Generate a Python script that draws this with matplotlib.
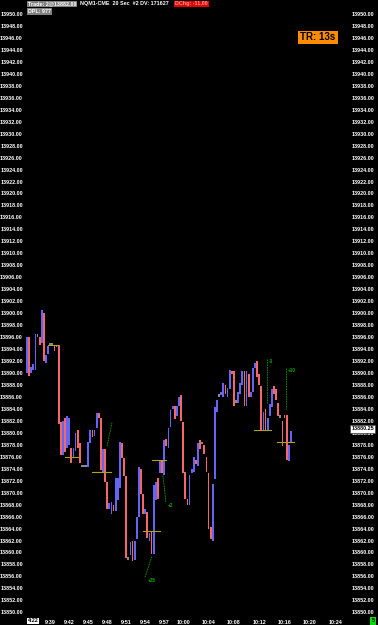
import matplotlib
matplotlib.use('Agg')
import matplotlib.pyplot as plt

plt.rcParams['font.family'] = ['Liberation Sans', 'DejaVu Sans']
plt.rcParams['font.weight'] = 'bold'

# 20 sec bars, first bar at 9:35:20
opens = [13890.0, 13896.0, 13890.0, 13890.5, 13890.5, 13896.25, 13896.0, 13895.0, 13900.0, 13891.75,
         13893.25, 13894.75, 13894.75, 13894.75, 13894.5, 13894.5, 13881.75, 13876.25, 13882.5, 13877.5,
         13878.0, 13877.5, 13876.0, 13877.0, 13880.5, 13878.25, 13874.5, 13874.5, 13874.5, 13874.25,
         13878.25, 13880.5, 13879.5, 13880.75, 13883.25, 13882.5, 13873.25, 13877.25, 13871.75, 13867.25,
         13866.5, 13868.0, 13867.0, 13868.75, 13870.75, 13878.25, 13875.75, 13872.75, 13859.0, 13859.5,
         13862.0, 13858.75, 13862.25, 13866.0, 13874.0, 13869.75, 13866.5, 13866.75, 13862.0, 13863.5,
         13859.75, 13868.75, 13872.5, 13873.25, 13875.5, 13873.0, 13879.0, 13877.5, 13881.0, 13884.0,
         13884.5, 13882.75, 13884.5, 13886.25, 13881.75, 13873.5, 13869.0, 13868.0, 13873.25, 13873.5,
         13875.5, 13874.5, 13878.75, 13878.25, 13878.0, 13876.0, 13873.25, 13864.25, 13862.0, 13872.25,
         13883.5, 13886.25, 13886.25, 13886.0, 13888.0, 13886.0, 13887.25, 13890.25, 13890.25, 13885.25,
         13885.0, 13886.5, 13888.0, 13890.25, 13884.5, 13889.75, 13886.0, 13886.75, 13890.75, 13892.0,
         13889.75, 13887.75, 13880.5, 13884.0, 13880.5, 13882.75, 13884.25, 13887.75, 13887.25, 13885.0,
         13882.75, 13882.0, 13883.0, 13883.0, 13875.25, 13878.5]
closes = [13896.0, 13889.5, 13891.0, 13891.5, 13896.5, 13896.25, 13894.75, 13900.5, 13892.0, 13893.0,
          13894.5, 13894.75, 13894.75, 13893.75, 13894.5, 13881.5, 13876.25, 13882.0, 13876.75, 13882.75,
          13882.5, 13875.0, 13877.5, 13880.0, 13877.5, 13875.0, 13874.5, 13874.5, 13874.5, 13878.5,
          13880.5, 13879.25, 13880.5, 13883.25, 13882.5, 13873.75, 13877.25, 13871.75, 13867.25, 13868.25,
          13868.5, 13867.0, 13872.5, 13872.5, 13878.5, 13875.75, 13872.75, 13859.0, 13859.0, 13861.75,
          13858.5, 13862.0, 13866.0, 13874.25, 13869.75, 13866.5, 13867.25, 13862.5, 13863.25, 13859.75,
          13871.25, 13871.75, 13869.0, 13875.5, 13873.25, 13878.75, 13877.75, 13880.75, 13883.75, 13884.5,
          13882.25, 13884.5, 13886.0, 13882.0, 13873.25, 13869.0, 13868.0, 13873.0, 13874.0, 13876.0,
          13874.75, 13878.25, 13877.25, 13878.25, 13876.5, 13873.5, 13864.0, 13862.25, 13871.5, 13884.25,
          13885.5, 13886.25, 13886.75, 13888.25, 13886.5, 13887.5, 13890.5, 13889.75, 13884.5, 13885.25,
          13886.75, 13888.25, 13890.25, 13884.5, 13890.25, 13886.0, 13886.75, 13890.75, 13891.75, 13889.25,
          13888.0, 13880.5, 13883.5, 13880.5, 13882.5, 13884.75, 13887.25, 13886.5, 13885.5, 13882.75,
          13882.75, 13877.75, 13882.5, 13875.5, 13878.0, 13880.25]

price_ticks = list(range(13850, 13952, 2))
time_pos = [11, 20, 29, 38, 47, 56, 65, 74, 86, 98, 110, 122, 134, 146]
time_labels = ['9:39', '9:42', '9:45', '9:48', '9:51', '9:54', '9:57',
               '10:00', '10:04', '10:08', '10:12', '10:16', '10:20', '10:24']

# olive horizontal levels: start bar, end bar, price
lvl_start = [10, 18, 31, 55, 59, 107.5, 118.5]
lvl_end = [15, 24, 40, 63, 66, 115.5, 126.5]
lvl_price = [13894.65, 13875.9, 13873.4, 13863.6, 13875.5, 13880.55, 13878.4]

# green trade markers
mk_x = [[37.9, 40.3], [55.9, 59.2], [64.4, 65.8], [113.7, 113.7], [122.5, 122.5, 122.8, 122.8]]
mk_y = [[13877.75, 13881.8], [13855.85, 13859.4], [13872.9, 13868.4], [13892.3, 13885.0],
        [13890.8, 13886.6, 13886.6, 13884.0]]
mk_text = ['', '+25', '+2', '-3', '+10']
mk_tx = [0, 57.0, 66.6, 114.6, 123.6]
mk_ty = [0, 13855.3, 13867.9, 13892.0, 13890.4]

last_price = 13880.25

blue = '#6464f5'
red = '#f56666'
grey = '#8a8a8a'
fs = 3.9

fig = plt.figure(figsize=(3.78, 6.25), dpi=100, facecolor='black')
ax = fig.add_axes([25 / 378, 12.7 / 625, 325 / 378, 598.3 / 625])
ax.set_facecolor('black')

for i in range(len(opens)):
    o, c = opens[i], closes[i]
    if c > o:
        ax.bar(i, c - o, bottom=o, width=0.85, color=blue, linewidth=0)
    elif c < o:
        ax.bar(i, o - c, bottom=c, width=0.85, color=red, linewidth=0)
    else:
        ax.bar(i, 0.4, bottom=o - 0.2, width=0.85, color=grey, linewidth=0)

for s, e, p in zip(lvl_start, lvl_end, lvl_price):
    ax.plot([s, e], [p, p], color='#b0a020', lw=0.8)

for xs, ys, t, tx, ty in zip(mk_x, mk_y, mk_text, mk_tx, mk_ty):
    ax.plot(xs, ys, color='#00a000', lw=0.6, ls=(0, (2, 1)))
    if t:
        ax.text(tx, ty, t, color='#00b000', fontsize=3.3, va='center', ha='left')

ax.set_xlim(-0.95, 153.0)
ax.set_ylim(13850, 13950)
ax.set_yticks(price_ticks)
ax.set_yticklabels(['%.2f' % p for p in price_ticks])
ax.set_xticks(time_pos)
ax.set_xticklabels(time_labels)
ax.tick_params(axis='y', length=0, labelleft=True, labelright=True,
               colors='white', labelsize=fs, pad=1.5)
ax.tick_params(axis='x', length=0, colors='white', labelsize=fs, pad=5.5)
for sp in ax.spines.values():
    sp.set_visible(False)

# current price tag on the right scale
fig.text(351.5 / 378, 1 - 429 / 625, '%.2f' % last_price, color='black', fontsize=fs,
         va='center', ha='left',
         bbox=dict(boxstyle='square,pad=0.2', fc='white', ec='#444444', lw=0.5))

# header
fig.text(28 / 378, 1 - 4 / 625, 'Trade: 2@13882.00', color='white', fontsize=fs, va='center',
         bbox=dict(boxstyle='square,pad=0.15', fc='#808080', ec='none'))
fig.text(80 / 378, 1 - 4 / 625, 'NQM1-CME  20 Sec  #2 DV: 171627', color='white',
         fontsize=fs, va='center')
fig.text(175 / 378, 1 - 4 / 625, 'DChg: -11.00', color='#ff9a9a', fontsize=fs, va='center',
         bbox=dict(boxstyle='square,pad=0.15', fc='#e00000', ec='none'))
fig.text(28 / 378, 1 - 11.5 / 625, 'DPL: 977', color='white', fontsize=fs, va='center',
         bbox=dict(boxstyle='square,pad=0.15', fc='#808080', ec='none'))

fig.text(318 / 378, 1 - 37.5 / 625, 'TR: 13s', color='black', fontsize=7, va='center', ha='center',
         bbox=dict(boxstyle='square,pad=0.2', fc='#ff8c00', ec='none'))

# bottom corners
fig.text(33 / 378, 1 - 621 / 625, '4:22', color='black', fontsize=fs, va='center', ha='center',
         bbox=dict(boxstyle='square,pad=0.15', fc='white', ec='none'))
fig.text(373 / 378, 1 - 621 / 625, '5', color='black', fontsize=fs, va='center', ha='center',
         bbox=dict(boxstyle='square,pad=0.3', fc='#00e000', ec='none'))

fig.savefig('out.png', dpi=100, facecolor='black')
